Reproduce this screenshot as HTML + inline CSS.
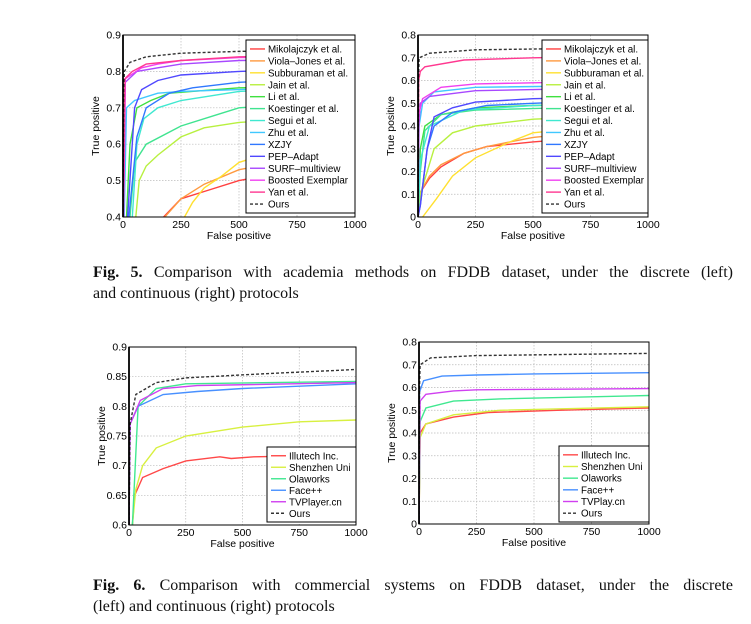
<!DOCTYPE html>
<html><head><meta charset="utf-8"><style>
body{margin:0;background:#fff;width:751px;height:624px;overflow:hidden;position:relative;font-family:"Liberation Sans",sans-serif}
svg{position:absolute;left:0;top:0}
.cap{position:absolute;left:93px;font-family:"Liberation Serif",serif;font-size:16px;line-height:21px;color:#111;width:640px}
.j{display:block;text-align:justify;text-align-last:justify;white-space:nowrap}
</style></head><body>
<svg id="s" width="751" height="624" xmlns="http://www.w3.org/2000/svg"></svg>
<div class="cap" style="top:262px"><span class="j"><b>Fig. 5.</b> Comparison with academia methods on FDDB dataset, under the discrete (left)</span><span style="display:block">and continuous (right) protocols</span></div>
<div class="cap" style="top:575px"><span class="j"><b>Fig. 6.</b> Comparison with commercial systems on FDDB dataset, under the discrete</span><span style="display:block">(left) and continuous (right) protocols</span></div>
<script>
const S=document.getElementById('s');let h='';
function plot(g,series,legend){
 const {x0,x1,yT,yB,ymin,ymax,yticks,lg}=g;
 const X=v=>x0+(x1-x0)*v/1000, Y=v=>yB-(yB-yT)*(v-ymin)/(ymax-ymin);
 for(const t of [250,500,750,1000]) h+=`<line x1="${X(t)}" x2="${X(t)}" y1="${yT}" y2="${yB}" stroke="#bbb" stroke-width="0.7" stroke-dasharray="1.5,1.5"/>`;
 for(const t of yticks) h+=`<line x1="${x0}" x2="${x1}" y1="${Y(t)}" y2="${Y(t)}" stroke="#bbb" stroke-width="0.7" stroke-dasharray="1.5,1.5"/>`;
 h+=`<clipPath id="c${x0}${yT}"><rect x="${x0}" y="${yT}" width="${x1-x0}" height="${yB-yT}"/></clipPath><g clip-path="url(#c${x0}${yT})">`;
 for(const s of series){const p=s.p.map(q=>X(q[0]).toFixed(1)+','+Y(q[1]).toFixed(1)).join(' ');
  h+=`<polyline points="${p}" fill="none" stroke="${s.c}" stroke-width="1.4" ${s.d?'stroke-dasharray="3,2"':''}/>`;}
 h+=`</g><rect x="${x0}" y="${yT}" width="${x1-x0}" height="${yB-yT}" fill="none" stroke="#000" stroke-width="1"/>`;
 h+=`<line x1="${x0}" x2="${x0}" y1="${yT}" y2="${yB}" stroke="#000" stroke-width="1.8"/>`;
 for(const t of [0,250,500,750,1000]) h+=`<text x="${X(t)}" y="${yB+11}" font-size="10.5" text-anchor="middle">${t}</text>`;
 for(const t of yticks) h+=`<text x="${x0-2}" y="${Y(t)+3.5}" font-size="10.5" text-anchor="end">${t}</text>`;
 h+=`<text x="${(x0+x1)/2}" y="${yB+22}" font-size="10.5" text-anchor="middle">False positive</text>`;
 h+=`<text transform="translate(${x0-24},${(yT+yB)/2}) rotate(-90)" font-size="10.5" text-anchor="middle">True positive</text>`;
 const [lx,ly,lw,lh]=lg;h+=`<rect x="${lx}" y="${ly}" width="${lw}" height="${lh}" fill="#fff" stroke="#000" stroke-width="1"/>`;
 const step=(lh-6)/legend.length;
 legend.forEach((n,i)=>{const s=series.find(q=>q.n===n);const yy=ly+3+step*(i+0.5);
  h+=`<line x1="${lx+4}" x2="${lx+19}" y1="${yy}" y2="${yy}" stroke="${s.c}" stroke-width="1.4" ${s.d?'stroke-dasharray="3,2"':''}/>`;
  h+=`<text x="${lx+22}" y="${yy+3.5}" font-size="9.8">${n}</text>`;});
}
const C={mik:'#ff4040',vj:'#ff9a40',sub:'#ffe030',jain:'#b8f040',li:'#40e040',koe:'#40e490',seg:'#40e8d0',zhu:'#40c8ff',xz:'#3078ff',pep:'#5048ff',surf:'#a848ff',boo:'#f040f0',yan:'#ff3890'};
const names=['Mikolajczyk et al.','Viola–Jones et al.','Subburaman et al.','Jain et al.','Li et al.','Koestinger et al.','Segui et al.','Zhu et al.','XZJY','PEP–Adapt','SURF–multiview','Boosted Exemplar','Yan et al.','Ours'];
const keys=['mik','vj','sub','jain','li','koe','seg','zhu','xz','pep','surf','boo','yan'];
function mk(d){const arr=keys.map((k,i)=>({n:names[i],c:C[k],p:d[k]}));arr.push({n:'Ours',c:'#333',d:1,p:d.ours});return arr;}
const tl={
 ours:[[0,0.4],[3,0.75],[6,0.8],[30,0.825],[100,0.84],[250,0.85],[500,0.855],[1000,0.86]],
 mik:[[175,0.4],[250,0.45],[350,0.47],[500,0.5],[750,0.53],[1000,0.55]],
 vj:[[180,0.4],[250,0.45],[350,0.49],[500,0.53],[750,0.56],[1000,0.59]],
 sub:[[265,0.4],[300,0.44],[350,0.48],[420,0.51],[500,0.55],[750,0.6],[1000,0.63]],
 jain:[[55,0.4],[70,0.5],[100,0.54],[150,0.57],[250,0.62],[350,0.645],[500,0.66],[1000,0.68]],
 li:[[15,0.4],[30,0.6],[60,0.7],[120,0.72],[200,0.74],[500,0.755],[1000,0.76]],
 koe:[[30,0.4],[50,0.55],[100,0.6],[250,0.65],[400,0.68],[500,0.7],[1000,0.72]],
 seg:[[40,0.4],[60,0.6],[90,0.67],[150,0.7],[250,0.72],[500,0.745],[1000,0.76]],
 zhu:[[5,0.4],[15,0.7],[50,0.72],[150,0.74],[250,0.745],[500,0.75],[1000,0.76]],
 xz:[[25,0.4],[60,0.62],[100,0.7],[200,0.74],[300,0.755],[500,0.77],[1000,0.785]],
 pep:[[20,0.4],[50,0.7],[80,0.75],[150,0.775],[250,0.79],[500,0.8],[1000,0.81]],
 surf:[[3,0.4],[10,0.77],[60,0.8],[150,0.81],[250,0.82],[500,0.83],[1000,0.835]],
 boo:[[2,0.4],[10,0.78],[80,0.81],[150,0.82],[250,0.83],[500,0.838],[1000,0.842]],
 yan:[[1,0.4],[8,0.78],[40,0.8],[100,0.82],[250,0.83],[500,0.84],[1000,0.845]]};
plot({x0:123,x1:355,yT:35,yB:217,ymin:0.4,ymax:0.9,yticks:[0.4,0.5,0.6,0.7,0.8,0.9],lg:[246,40,109,173]},mk(tl),names);
const tr={
 ours:[[0,0],[2,0.6],[5,0.7],[50,0.72],[250,0.735],[1000,0.745]],
 yan:[[0,0],[3,0.6],[10,0.64],[30,0.66],[200,0.69],[500,0.7],[1000,0.71]],
 boo:[[0,0],[3,0.45],[20,0.52],[100,0.57],[250,0.585],[500,0.59],[1000,0.6]],
 zhu:[[0,0],[5,0.4],[20,0.5],[70,0.55],[250,0.57],[1000,0.58]],
 surf:[[0,0],[4,0.4],[10,0.5],[50,0.53],[250,0.555],[500,0.56],[1000,0.57]],
 pep:[[0,0],[10,0.05],[40,0.3],[70,0.44],[150,0.48],[250,0.505],[500,0.52],[1000,0.53]],
 xz:[[0,0],[10,0.05],[40,0.3],[70,0.4],[150,0.46],[300,0.49],[500,0.5],[1000,0.52]],
 li:[[0,0],[10,0.3],[30,0.4],[100,0.45],[250,0.48],[500,0.49],[1000,0.5]],
 koe:[[0,0],[10,0.2],[30,0.38],[100,0.45],[250,0.47],[1000,0.49]],
 seg:[[0,0],[10,0.25],[50,0.4],[200,0.47],[500,0.49],[1000,0.5]],
 jain:[[0,0],[10,0.1],[70,0.3],[150,0.37],[250,0.4],[500,0.43],[1000,0.45]],
 mik:[[0,0],[5,0.1],[50,0.17],[100,0.22],[200,0.28],[300,0.31],[500,0.33],[1000,0.37]],
 vj:[[0,0],[5,0.1],[50,0.18],[100,0.23],[200,0.28],[300,0.31],[500,0.35],[1000,0.4]],
 sub:[[20,0],[80,0.08],[150,0.18],[250,0.26],[400,0.33],[500,0.37],[1000,0.42]]};
plot({x0:418,x1:648,yT:35,yB:217,ymin:0,ymax:0.8,yticks:[0,0.1,0.2,0.3,0.4,0.5,0.6,0.7,0.8],lg:[542,40,106,173]},mk(tr),names);
const cn=['Illutech Inc.','Shenzhen Uni','Olaworks','Face++','TVPlayer.cn','Ours'];
const bl=[
 {n:'Illutech Inc.',c:'#ff4848',p:[[15,0.6],[25,0.65],[60,0.68],[150,0.695],[250,0.708],[400,0.715],[450,0.712],[550,0.715],[1000,0.718]]},
 {n:'Shenzhen Uni',c:'#d8f040',p:[[15,0.6],[30,0.66],[60,0.7],[120,0.73],[250,0.75],[500,0.765],[750,0.774],[1000,0.777]]},
 {n:'Olaworks',c:'#40e890',p:[[15,0.6],[40,0.8],[120,0.83],[250,0.838],[1000,0.842]]},
 {n:'Face++',c:'#4890ff',p:[[0,0.6],[5,0.77],[40,0.8],[150,0.82],[300,0.825],[500,0.83],[1000,0.838]]},
 {n:'TVPlayer.cn',c:'#d040f0',p:[[0,0.6],[5,0.77],[50,0.81],[150,0.83],[300,0.835],[1000,0.84]]},
 {n:'Ours',c:'#333',d:1,p:[[0,0.6],[5,0.77],[30,0.82],[120,0.84],[250,0.848],[600,0.855],[1000,0.862]]}];
plot({x0:129,x1:356,yT:347,yB:525,ymin:0.6,ymax:0.9,yticks:[0.6,0.65,0.7,0.75,0.8,0.85,0.9],lg:[267,447,89,75]},bl,cn);
const cn2=['Illutech Inc.','Shenzhen Uni','Olaworks','Face++','TVPlay.cn','Ours'];
const br=[
 {n:'Illutech Inc.',c:'#ff4848',p:[[0,0],[5,0.4],[30,0.44],[150,0.47],[300,0.49],[600,0.5],[1000,0.51]]},
 {n:'Shenzhen Uni',c:'#d8f040',p:[[0,0],[5,0.38],[30,0.44],[150,0.48],[350,0.5],[1000,0.515]]},
 {n:'Olaworks',c:'#40e890',p:[[0,0],[5,0.45],[30,0.51],[150,0.54],[350,0.55],[1000,0.565]]},
 {n:'Face++',c:'#4890ff',p:[[0,0],[2,0.58],[20,0.63],[100,0.65],[250,0.655],[500,0.66],[1000,0.665]]},
 {n:'TVPlay.cn',c:'#d040f0',p:[[0,0],[5,0.54],[30,0.57],[150,0.585],[250,0.59],[1000,0.595]]},
 {n:'Ours',c:'#333',d:1,p:[[0,0],[2,0.6],[5,0.7],[50,0.73],[250,0.74],[1000,0.75]]}];
plot({x0:419,x1:649,yT:342,yB:524,ymin:0,ymax:0.8,yticks:[0,0.1,0.2,0.3,0.4,0.5,0.6,0.7,0.8],lg:[559,446,90,76]},br,cn2);
S.innerHTML=h;
</script>
</body></html>
